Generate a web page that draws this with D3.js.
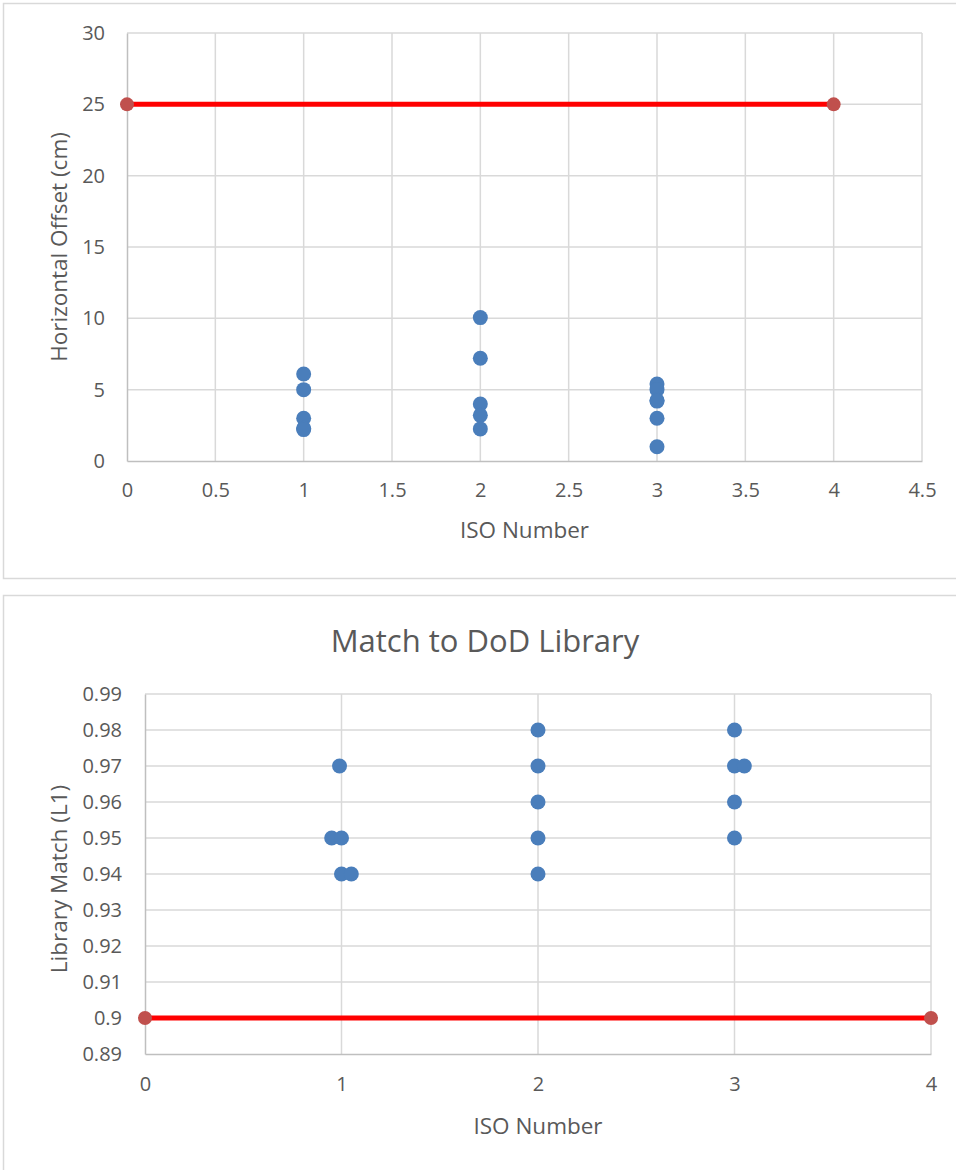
<!DOCTYPE html>
<html><head><meta charset="utf-8">
<script src="https://cdn.jsdelivr.net/npm/d3@7"></script>
<style>body{margin:0;background:#fff}svg{display:block}text{font-family:"Open Sans",sans-serif;fill:#595959}</style>
</head><body>
<svg id="c" width="956" height="1170"></svg>
<script>
// Chart 1: Horizontal Offset
const offsetX = [1,1,1,1,1, 2,2,2,2,2, 3,3,3,3,3,3];
const offsetY = [6.1,5.0,3.0,2.3,2.2, 10.05,7.2,4.0,3.2,2.25, 5.4,5.0,4.25,4.2,3.0,1.0];
const offsetLimitX = [0,4];
const offsetLimitY = [25,25];
const offsetXTicks = [0,0.5,1,1.5,2,2.5,3,3.5,4,4.5];
const offsetYTicks = [0,5,10,15,20,25,30];

// Chart 2: Match to DoD Library
const matchX = [0.99,0.95,1.0,1.0,1.05, 2,2,2,2,2, 3,3,3.05,3,3];
const matchY = [0.97,0.95,0.95,0.94,0.94, 0.98,0.97,0.96,0.95,0.94, 0.98,0.97,0.97,0.96,0.95];
const matchLimitX = [0,4];
const matchLimitY = [0.9,0.9];
const matchXTicks = [0,1,2,3,4];
const matchYTicks = [0.89,0.9,0.91,0.92,0.93,0.94,0.95,0.96,0.97,0.98,0.99];
const matchTitle = "Match to DoD Library";

const svg = d3.select("#c");
const grid = "#d9d9d9", axisCol = "#bfbfbf", dotCol = "#4a7ebb", redCol = "#ff0000", endCol = "#c0504d";

function drawChart(o){
  const g = svg.append("g");
  g.append("rect").attr("x",o.frame[0]).attr("y",o.frame[1]).attr("width",o.frame[2]).attr("height",o.frame[3])
    .attr("fill","#fff").attr("stroke",grid).attr("stroke-width",1.5);
  const x = d3.scaleLinear().domain(o.xDomain).range([o.left,o.right]);
  const y = d3.scaleLinear().domain(o.yDomain).range([o.bottom,o.top]);
  // gridlines
  g.selectAll(".vg").data(o.xTicks.slice(1)).join("line")
    .attr("x1",d=>x(d)).attr("x2",d=>x(d)).attr("y1",o.top).attr("y2",o.bottom)
    .attr("stroke",grid).attr("stroke-width",1.5);
  g.selectAll(".hg").data(o.yTicks.slice(1)).join("line")
    .attr("x1",o.left).attr("x2",o.right).attr("y1",d=>y(d)).attr("y2",d=>y(d))
    .attr("stroke",grid).attr("stroke-width",1.5);
  // axes
  const xa = g.append("g").attr("transform",`translate(0,${o.bottom})`)
    .call(d3.axisBottom(x).tickValues(o.xTicks).tickSize(0).tickPadding(o.xPad).tickFormat(d=>String(d)));
  xa.select(".domain").attr("stroke",axisCol).attr("stroke-width",1.5);
  xa.selectAll("text").attr("font-size",o.tickSize).attr("fill","#595959").style("font-family","Open Sans");
  const ya = g.append("g").attr("transform",`translate(${o.left},0)`)
    .call(d3.axisLeft(y).tickValues(o.yTicks).tickSize(0).tickPadding(o.yPad).tickFormat(d=>String(+d.toFixed(2))));
  ya.select(".domain").attr("stroke",axisCol).attr("stroke-width",1.5);
  ya.selectAll("text").attr("font-size",o.tickSize).attr("fill","#595959").style("font-family","Open Sans");
  // red limit line
  const line = d3.line().x(d=>x(d[0])).y(d=>y(d[1]));
  const lim = o.limX.map((v,i)=>[v,o.limY[i]]);
  g.append("path").attr("d",line(lim)).attr("fill","none").attr("stroke",redCol).attr("stroke-width",5);
  g.selectAll(".ep").data(lim).join("circle").attr("cx",d=>x(d[0])).attr("cy",d=>y(d[1])).attr("r",7).attr("fill",endCol);
  // points
  g.selectAll(".pt").data(o.px.map((v,i)=>[v,o.py[i]])).join("circle")
    .attr("cx",d=>x(d[0])).attr("cy",d=>y(d[1])).attr("r",7.5).attr("fill",dotCol);
  // labels
  g.append("text").attr("x",(o.left+o.right)/2).attr("y",o.xLabelY).attr("text-anchor","middle")
    .attr("font-size",o.labelSize).text("ISO Number");
  g.append("text").attr("transform",`translate(${o.yLabelX},${o.yLabelCY}) rotate(-90)`).attr("text-anchor","middle")
    .attr("font-size",o.labelSize).text(o.yLabel);
  if(o.title) g.append("text").attr("x",o.titleX).attr("y",o.titleY).attr("text-anchor","middle")
    .attr("font-size",o.titleSize).text(o.title);
}

drawChart({frame:[3.5,3.5,960,575], xDomain:[0,4.5], yDomain:[0,30], left:127, right:922, top:33, bottom:461,
  xTicks:offsetXTicks, yTicks:offsetYTicks, px:offsetX, py:offsetY, limX:offsetLimitX, limY:offsetLimitY,
  xPad:22, yPad:22, tickSize:20, labelSize:22.5, xLabelY:538, yLabelX:67, yLabelCY:247, yLabel:"Horizontal Offset (cm)"});

drawChart({frame:[3.5,595.5,960,590], xDomain:[0,4], yDomain:[0.89,0.99], left:145, right:931, top:694, bottom:1054,
  xTicks:matchXTicks, yTicks:matchYTicks, px:matchX, py:matchY, limX:matchLimitX, limY:matchLimitY,
  xPad:23, yPad:23, tickSize:20, labelSize:22.5, xLabelY:1134, yLabelX:67, yLabelCY:879, yLabel:"Library Match (L1)",
  title:matchTitle, titleX:485, titleY:652, titleSize:31});
</script>
</body></html>
